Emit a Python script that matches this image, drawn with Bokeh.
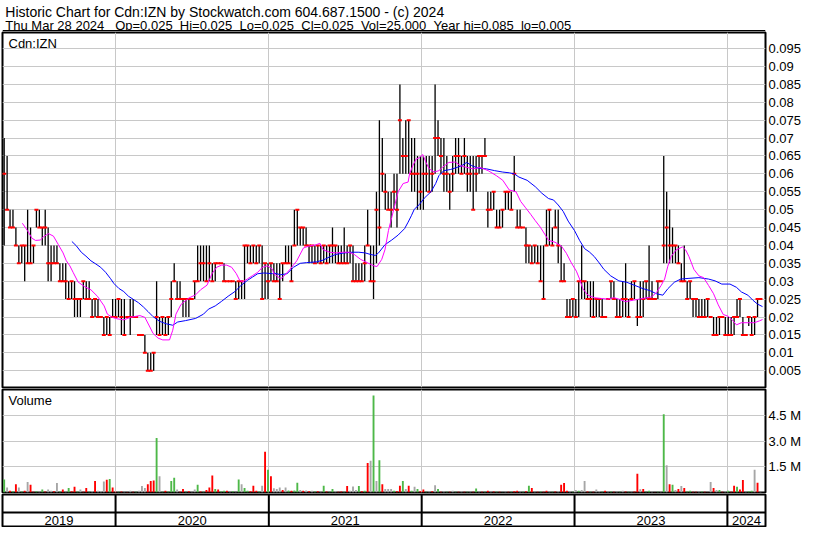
import numpy as np
import pandas as pd
from bokeh.plotting import figure
from bokeh.layouts import column
from bokeh.models import (Range1d, FixedTicker, PrintfTickFormatter, Label,
                          BoxAnnotation, Span, ColumnDataSource)
from bokeh.core.properties import value
from bokeh.core.validation import silence
from bokeh.core.validation.warnings import MISSING_RENDERERS
from bokeh.embed import file_html
from bokeh.resources import INLINE

silence(MISSING_RENDERERS, True)

FONT = "Liberation Sans"

# ---------------- data (weekly) ----------------
TITLE_1 = "Historic Chart for Cdn:IZN by Stockwatch.com 604.687.1500 - (c) 2024"
TITLE_2 = ("Thu Mar 28 2024 \u00a0 Op=0.025 \u00a0Hi=0.025 \u00a0Lo=0.025 \u00a0Cl=0.025"
           " \u00a0Vol=25,000 \u00a0Year hi=0.085 \u00a0lo=0.005")
SYMBOL = "Cdn:IZN"
FIRST_WEEK = "2019-04-10"
X_START = "2019-04-06"
X_END = "2024-04-01"
year_starts = ["2020-01-01", "2021-01-01", "2022-01-01", "2023-01-01", "2024-01-01"]
year_labels = ["2019", "2020", "2021", "2022", "2023", "2024"]
price_ticks = [0.005, 0.01, 0.015, 0.02, 0.025, 0.03, 0.035, 0.04, 0.045, 0.05,
               0.055, 0.06, 0.065, 0.07, 0.075, 0.08, 0.085, 0.09, 0.095]
volume_ticks = [1.5, 3.0, 4.5]

high = [
    .07, .065, .05, .05, .045, .04, .04, .04, .05, .045,
    .04, .05, .05, .045, .05, .045, .04, .04, .04, .035,
    .035, .035, .03, .03, .03, .025, .025, .03, .03, .03,
    .025, .025, .025, .02, .02, .02, .02, .025, .025, .025,
    .025, .025, .02, .025, .025, .02, .015, .015, .015, .01,
    .01, .01, .03, .02, .02, .02, .02, .03, .035, .03,
    .03, .025, .025, .025, .025, .03, .04, .04, .04, .04,
    .04, .035, .035, .035, .035, .035, .03, .03, .03, .03,
    .03, .03, .04, .04, .04, .04, .04, .04, .04, .035,
    .035, .035, .035, .035, .035, .035, .04, .04, .04, .05,
    .05, .045, .045, .045, .04, .04, .04, .04, .04, .04,
    .04, .04, .045, .04, .04, .04, .045, .04, .04, .04,
    .035, .035, .035, .04, .05, .04, .04, .055, .075, .07,
    .06, .055, .055, .06, .06, .085, .07, .075, .075, .07,
    .07, .065, .065, .065, .065, .065, .065, .085, .075, .07,
    .07, .065, .06, .065, .07, .07, .065, .07, .065, .065,
    .065, .065, .065, .065, .07, .055, .055, .055, .05, .05,
    .05, .055, .055, .055, .065, .05, .05, .045, .045, .04,
    .04, .04, .04, .04, .04, .05, .05, .045, .05, .05,
    .04, .035, .025, .025, .025, .025, .03, .04, .03, .03,
    .03, .03, .025, .025, .025, .02, .025, .03, .03, .025,
    .025, .03, .035, .025, .03, .03, .025, .03, .03, .03,
    .04, .03, .025, .03, .03, .065, .055, .05, .045, .04,
    .04, .035, .04, .03, .03, .025, .025, .025, .025, .025,
    .025, .02, .02, .02, .02, .02, .02, .02, .02, .02,
    .025, .025, .02, .015, .02, .02, .02, .025, .025,
]
low = [
    .04, .05, .045, .045, .04, .035, .035, .03, .035, .035,
    .035, .045, .045, .04, .04, .03, .03, .035, .035, .03,
    .03, .025, .025, .025, .02, .02, .02, .025, .025, .025,
    .02, .02, .02, .02, .015, .015, .015, .02, .02, .02,
    .015, .015, .02, .015, .02, .02, .015, .015, .01, .005,
    .005, .005, .015, .015, .015, .015, .015, .02, .03, .025,
    .025, .02, .02, .02, .025, .025, .03, .03, .03, .03,
    .03, .03, .03, .035, .035, .03, .03, .03, .03, .025,
    .025, .025, .025, .035, .035, .035, .035, .035, .025, .025,
    .025, .03, .03, .03, .025, .03, .035, .035, .03, .04,
    .04, .04, .04, .04, .035, .035, .035, .035, .035, .035,
    .035, .035, .035, .035, .035, .035, .035, .035, .035, .03,
    .03, .03, .03, .03, .04, .03, .025, .035, .04, .055,
    .05, .05, .045, .05, .045, .06, .06, .06, .06, .055,
    .055, .05, .05, .05, .055, .055, .055, .06, .065, .06,
    .055, .055, .05, .055, .06, .06, .06, .06, .055, .055,
    .05, .055, .06, .06, .065, .045, .05, .05, .045, .045,
    .045, .05, .05, .05, .055, .045, .045, .045, .035, .035,
    .035, .035, .035, .03, .025, .04, .04, .04, .045, .035,
    .03, .03, .02, .02, .02, .02, .02, .025, .025, .025,
    .02, .02, .02, .02, .02, .02, .025, .025, .025, .02,
    .02, .02, .02, .02, .025, .025, .0175, .02, .02, .025,
    .025, .025, .025, .025, .03, .035, .035, .035, .035, .035,
    .035, .03, .03, .025, .025, .02, .02, .02, .02, .02,
    .02, .02, .015, .015, .015, .02, .015, .015, .015, .015,
    .02, .02, .015, .015, .0175, .015, .015, .02, .025,
]
close = [
    .06, .05, .045, .045, .04, .035, .04, .04, .035, .035,
    .04, .05, .045, .045, .045, .035, .035, .035, .035, .03,
    .03, .03, .025, .03, .025, .025, .025, .03, .025, .025,
    .02, .025, .02, .02, .015, .02, .015, .02, .02, .025,
    .02, .015, .02, .02, .02, .02, .015, .015, .01, .005,
    .005, .01, .02, .015, .02, .015, .02, .025, .03, .025,
    .025, .025, .025, .025, .025, .03, .03, .035, .035, .03,
    .035, .03, .035, .035, .035, .03, .03, .03, .03, .025,
    .03, .03, .04, .04, .035, .04, .035, .04, .025, .035,
    .03, .035, .03, .03, .025, .035, .035, .035, .03, .04,
    .05, .045, .045, .04, .04, .04, .035, .04, .035, .04,
    .035, .04, .04, .04, .035, .035, .035, .035, .04, .03,
    .03, .03, .03, .035, .04, .03, .03, .05, .045, .06,
    .055, .05, .05, .055, .05, .075, .065, .065, .075, .06,
    .06, .06, .055, .06, .06, .055, .06, .07, .07, .065,
    .06, .06, .055, .06, .065, .065, .06, .065, .06, .06,
    .05, .06, .065, .065, .065, .05, .05, .055, .045, .045,
    .05, .055, .055, .05, .06, .045, .045, .045, .04, .04,
    .035, .04, .035, .03, .025, .04, .05, .04, .045, .04,
    .03, .03, .02, .02, .025, .02, .03, .03, .03, .025,
    .025, .02, .025, .025, .02, .02, .025, .03, .025, .02,
    .02, .025, .025, .02, .025, .03, .02, .02, .025, .03,
    .025, .025, .025, .03, .03, .04, .045, .04, .04, .04,
    .035, .03, .03, .025, .03, .025, .025, .02, .02, .02,
    .025, .02, .015, .015, .02, .02, .015, .015, .015, .02,
    .02, .025, .015, .015, .02, .015, .02, .025, .025,
]
# weekly volume, millions of shares
volume_m = [
    .77, .30, .10, .08, .49, .30, .06, .10, .62, .45,
    .05, .08, .05, .17, .06, .17, .11, .07, .56, .06,
    .17, .05, .26, .08, .34, .06, .17, .05, .26, .04,
    .08, .68, .10, .08, .64, .75, .79, .30, .05, .04,
    .06, .05, .03, .11, .05, .04, .10, .38, .26, .49,
    .68, .71, 3.2, .96, .05, .11, .06, .68, .86, .17,
    .05, .20, .05, .08, .04, .17, .45, .06, .05, .15,
    .30, 1.0, .20, .17, .06, .11, .11, .05, .08, .03,
    .77, .49, .26, .10, .08, .40, .11, .06, .40, 2.4,
    1.33, .96, .25, .20, .30, .15, .30, .12, .10, .12,
    .58, .15, .10, .12, .08, .10, .06, .08, .05, .40,
    .06, .05, .20, .08, .05, .06, .04, .38, .10, .35,
    .15, .38, .08, .10, 1.74, 1.86, 5.7, .68, 1.9, .49,
    .20, .20, .20, .10, .08, .40, .68, .20, .40, .10,
    .34, .20, .08, .17, .05, .06, .08, .43, .20, .05,
    .06, .05, .04, .11, .05, .04, .06, .04, .05, .05,
    .04, .24, .05, .04, .05, .11, .04, .06, .04, .05,
    .02, .05, .04, .05, .08, .11, .05, .04, .08, .40,
    .26, .05, .04, .06, .05, .11, .05, .04, .06, .08,
    .45, .56, .11, .06, .04, .15, .10, .15, .68, .06,
    .05, .04, .17, .08, .05, .11, .05, .06, .04, .05,
    .04, .11, .06, .05, .04, .06, 1.1, .19, .20, .05,
    .11, .04, .02, .05, .04, 4.6, 1.6, .49, .45, .15,
    .20, .38, .26, .06, .11, .05, .05, .04, .06, .04,
    .02, .62, .26, .15, .15, .05, .06, .11, .05, .40,
    .34, .17, .73, .05, .08, .11, 1.33, .58, .03,
]
# g = up, r = down, n = unchanged
volume_dir = (
    "gnrgrngrnr" "rgngrnnrng" "rngrrgnrrg" "nrnnnrgrrg" "rnrnrgnnnr"
    "rrgngrgggn" "rrgrnngrgr" "rrgrggrngn" "gnggrrrgnr" "grnnnrngrg"
    "gnrnrngrng" "rggnrrgrnn" "ngrgrngngr" "nnngrrgnrg" "ngrrgnrngr"
    "ngrngrnrgn" "rgnrgrnrgr" "gnrgrrngrg" "rnrgrrngrn" "rrrngngnnr"
    "grnngrngrn" "gnrgnrrnrg" "gnrgngnrgn" "rnrggrrngr" "rnrngrngrr"
    "grrnggnrn"
)

# moving averages (position in weeks, value)
ma_fast_week = [
    6.2, 7.9, 9.5, 10.7, 12.3, 13.4, 15.1, 16.8, 18.5, 20.1, 21.2, 22.4, 23.5,
    25.2, 27.4, 29.6, 31.8, 34.1, 35.2, 36.9, 38.5, 40.8, 43.0, 46.3, 48.0,
    49.7, 50.8, 52.5, 54.1, 56.4, 57.5, 58.6, 60.3, 63.0, 65.3, 67.0, 69.2,
    70.9, 72.5, 74.2, 75.9, 77.6, 79.2, 80.3, 81.4, 83.1, 84.8, 86.5, 88.1,
    89.8, 91.5,
    92.0, 94.3, 95.4, 97.6, 99.8, 102.1, 104.3, 106.5, 107.7, 108.8, 111.0,
    113.2, 115.5, 117.7, 119.4, 121.6, 123.8, 126.1, 127.2, 128.8, 129.9,
    131.1, 132.2, 133.3, 134.4, 136.1, 137.8, 138.3, 139.4, 140.5, 141.6,
    142.8, 143.9, 145.0, 146.7, 148.3, 149.5, 151.7, 153.9, 155.6, 157.8,
    160.0, 162.3, 165.1, 167.9, 170.1, 172.3, 174.6, 176.2, 177.9, 179.6,
    181.2, 182.9, 184.6,
    185.7, 187.9, 190.1, 191.8, 193.5, 195.2, 196.3, 197.4, 199.1, 201.3,
    203.5, 205.8, 208.0, 209.7, 211.9, 214.7, 218.0, 220.8, 222.5, 224.1,
    225.3, 226.4, 227.5, 229.2, 231.4, 232.5, 233.6, 235.3, 237.0, 238.6,
    240.3, 242.0, 243.6, 245.3, 247.0, 248.7, 249.8, 251.5, 253.7, 255.9,
    257.6, 258.7,
]
ma_fast = [
    .0462, .0442, .0420, .0414, .0415, .0424, .0433, .0426, .0402, .0379,
    .0357, .0343, .0325, .0298, .0285, .0276, .0258, .0231, .0208, .0199,
    .0195, .0192, .0199, .0204, .0199, .0172, .0154, .0141, .0136, .0136,
    .0163, .0208, .0235, .0253, .0262, .0276, .0289, .0321, .0339, .0345,
    .0345, .0339, .0321, .0303, .0298, .0307, .0316, .0325, .0339, .0343,
    .0334,
    .0321, .0307, .0314, .0334, .0357, .0393, .0399, .0402, .0406, .0388,
    .0381, .0379, .0381, .0381, .0375, .0361, .0352, .0343, .0341, .0361,
    .0388, .0442, .0478, .0514, .0550, .0573, .0577, .0600, .0623, .0641,
    .0645, .0654, .0632, .0614, .0605, .0609, .0618, .0632, .0633, .0623,
    .0618, .0614, .0618, .0609, .0595, .0582, .0555, .0550, .0523, .0505,
    .0487, .0469, .0451, .0429,
    .0414, .0409, .0398, .0378, .0351, .0328, .0306, .0279, .0261, .0254,
    .0252, .0250, .0254, .0250, .0243, .0247, .0252, .0256, .0268, .0288,
    .0306, .0342, .0369, .0387, .0396, .0387, .0369, .0333, .0315, .0310,
    .0288, .0265, .0234, .0207, .0202, .0189, .0178, .0184, .0184, .0184,
    .0189, .0193,
]
ma_slow_week = [
    23.1, 24.6, 26.3, 27.9, 29.6, 31.3, 32.9, 34.6, 36.3, 37.4, 39.1, 40.8,
    42.4, 44.1, 45.8, 47.5, 49.1, 50.8, 53.0, 55.3, 57.5, 59.2, 61.9, 65.3,
    68.0, 69.7, 72.0, 74.2, 76.4, 78.7, 80.9, 83.1, 84.8, 86.5, 88.7, 91.5,
    92.0, 94.3, 96.5, 98.7, 101.0, 103.2, 106.5, 108.8, 111.0, 113.2, 116.0,
    118.8, 121.0, 123.2, 124.9, 126.6, 127.7, 129.9, 132.2, 134.4, 136.6,
    137.8, 138.9, 139.9, 141.6, 143.3, 145.6, 147.2, 148.3, 150.0, 152.2,
    154.5, 156.1, 157.8, 159.5, 161.7, 164.5, 167.3, 170.1, 172.3, 174.0,
    175.6, 178.4, 181.2, 183.4,
    185.7, 187.4, 189.0, 190.7, 192.4, 194.6, 196.3, 198.0, 199.6, 201.3,
    203.0, 204.6, 206.9, 209.7, 212.4, 215.2, 218.0, 220.2, 222.5, 224.7,
    226.4, 228.6, 230.8, 233.6, 237.0, 240.3, 242.5, 244.8, 247.6, 249.8,
    251.5, 253.7, 255.4, 257.0, 258.7,
]
ma_slow = [
    .0411, .0399, .0381, .0370, .0357, .0348, .0339, .0325, .0307, .0294,
    .0280, .0271, .0258, .0249, .0240, .0228, .0215, .0201, .0188, .0181,
    .0177, .0186, .0190, .0196, .0208, .0222, .0231, .0244, .0258, .0271,
    .0289, .0303, .0312, .0321, .0323, .0321,
    .0323, .0318, .0321, .0339, .0350, .0352, .0354, .0359, .0368, .0375,
    .0379, .0381, .0381, .0379, .0375, .0372, .0379, .0402, .0415, .0429,
    .0447, .0465, .0483, .0501, .0514, .0532, .0550, .0573, .0595, .0609,
    .0612, .0618, .0623, .0632, .0623, .0616, .0614, .0609, .0605, .0603,
    .0600, .0591, .0582, .0564, .0546,
    .0531, .0527, .0513, .0495, .0468, .0441, .0414, .0391, .0382, .0369,
    .0351, .0333, .0315, .0301, .0297, .0288, .0279, .0274, .0265, .0261,
    .0279, .0297, .0306, .0308, .0310, .0306, .0301, .0292, .0292, .0283,
    .0270, .0261, .0247, .0236, .0229,
]

# ---------------- derived columns ----------------
first = pd.Timestamp(FIRST_WEEK)
n = len(close)
dates = first + pd.to_timedelta(np.arange(n) * 7, unit="D")
dir_colors = {"g": "#4DB848", "r": "#FF0000", "n": "#A6A6A6"}
vol_colors = [dir_colors[c] for c in volume_dir[:n]]
bars = ColumnDataSource(dict(x=dates, high=high, low=low, close=close,
                             vol=volume_m, color=vol_colors))
fast_x = first + pd.to_timedelta(np.array(ma_fast_week) * 7, unit="D")
slow_x = first + pd.to_timedelta(np.array(ma_slow_week) * 7, unit="D")

x_start = pd.Timestamp(X_START)
x_end = pd.Timestamp(X_END)
year_ms = [pd.Timestamp(s).value // 10**6 for s in year_starts]
bounds = [x_start] + [pd.Timestamp(s) for s in year_starts] + [x_end]
year_centers = [bounds[i] + (bounds[i + 1] - bounds[i]) / 2 for i in range(len(bounds) - 1)]

# ---------------- layout ----------------
W = 814
LEFT = 2
RIGHT = 49
GRID = "#C8C8C8"
xr = Range1d(x_start, x_end)


def panel(height, y_range, y_loc="right"):
    p = figure(width=W, height=height, x_range=xr, y_range=y_range,
               x_axis_type="datetime", x_axis_location=None, y_axis_location=y_loc,
               toolbar_location=None, output_backend="svg",
               min_border_left=LEFT, min_border_right=RIGHT,
               min_border_top=1, min_border_bottom=1)
    p.outline_line_color = "black"
    p.outline_line_width = 2
    p.outline_line_alpha = 1
    p.background_fill_color = "white"
    p.border_fill_color = "white"
    p.xgrid.ticker = FixedTicker(ticks=year_ms)
    p.xgrid.grid_line_color = GRID
    p.ygrid.grid_line_color = GRID
    return p


def style_axis(ax):
    ax.axis_line_color = None
    ax.major_tick_line_color = None
    ax.minor_tick_line_color = None
    ax.major_tick_out = 0
    ax.major_tick_in = 0
    ax.major_label_standoff = 3
    ax.major_label_text_font = FONT
    ax.major_label_text_font_size = "13px"
    ax.major_label_text_color = "black"


# header
h = figure(width=W, height=31, x_range=Range1d(0, W), y_range=Range1d(0, 31),
           x_axis_location=None, y_axis_location=None, toolbar_location=None,
           output_backend="svg", min_border=0)
h.outline_line_color = None
h.grid.visible = False
h.add_layout(Label(x=3, y=19.5, text=TITLE_1, text_font=FONT, text_font_size="14px",
                   text_color="black", text_baseline="alphabetic"))
h.add_layout(Label(x=3, y=6.5, text=TITLE_2, text_font=FONT, text_font_size="13px",
                   text_color="black", text_baseline="alphabetic"))
h.add_layout(BoxAnnotation(bottom=0, top=1.5, fill_color="black", fill_alpha=1,
                           line_alpha=0))

# price panel
p = panel(357, Range1d(0.0003, 0.0995))
style_axis(p.yaxis[0])
p.yaxis[0].ticker = FixedTicker(ticks=price_ticks)
p.yaxis[0].formatter = PrintfTickFormatter(format="%g")
p.segment(x0="x", y0="low", x1="x", y1="high", source=bars,
          line_color="black", line_width=1.3)
p.scatter(x="x", y="close", source=bars, marker="dash", size=4,
          line_color="#FF0000", line_width=2)
p.line(slow_x, ma_slow, line_color="#0000FF", line_width=1)
p.line(fast_x, ma_fast, line_color="#FF00FF", line_width=1)
p.add_layout(Label(x=x_start.value // 10**6, y=0.0995, text=SYMBOL, x_offset=6,
                   y_offset=-3, text_baseline="top", text_font=FONT,
                   text_font_size="13px", text_color="black"))

# volume panel
v = panel(105, Range1d(0, 6.05))
style_axis(v.yaxis[0])
v.yaxis[0].ticker = FixedTicker(ticks=volume_ticks)
v.yaxis[0].formatter = PrintfTickFormatter(format="%.1f M")
v.vbar(x="x", top="vol", bottom=0, width=4.5 * 86400000, source=bars,
       fill_color="color", line_color=None)
v.add_layout(Label(x=x_start.value // 10**6, y=6.05, text="Volume", x_offset=6,
                   y_offset=-3, text_baseline="top", text_font=FONT,
                   text_font_size="13px", text_color="black"))

# date band
d = panel(34, Range1d(0, 1), y_loc=None)
d.grid.visible = False
d.add_layout(Span(location=0.44, dimension="width", line_color="black", line_width=2))
for ms in year_ms:
    d.add_layout(Span(location=ms, dimension="height", line_color="black", line_width=2))
d.text(x=year_centers, y=0.2, text=year_labels, text_align="center",
       text_baseline="middle", text_font=value(FONT), text_font_size="13px",
       text_color="black")

layout = column(h, p, v, d, spacing=0)
open("out.html", "w").write(file_html(layout, INLINE))
